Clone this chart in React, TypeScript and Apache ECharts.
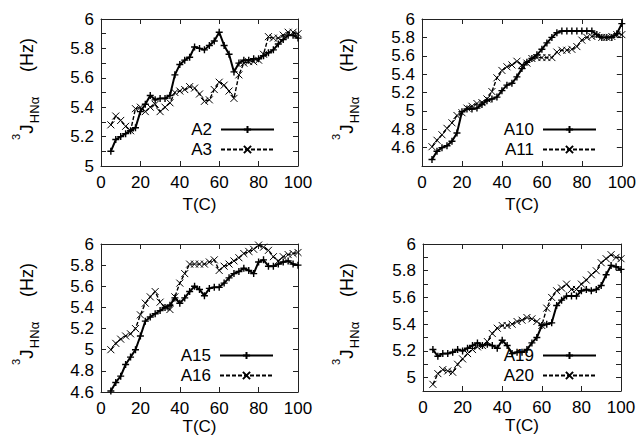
import React, { useEffect, useRef } from 'react';
import * as echarts from 'echarts';

// Temperatures (°C)
const T = [5, 7.5, 10, 12.5, 15, 17.5, 20, 22.5, 25, 27.5, 30, 32.5, 35, 37.5, 40, 42.5, 45, 47.5, 50, 52.5, 55, 57.5, 60, 62.5, 65, 67.5, 70, 72.5, 75, 77.5, 80, 82.5, 85, 87.5, 90, 92.5, 95, 97.5, 100];

const A2 = [5.10, 5.18, 5.20, 5.22, 5.24, 5.26, 5.37, 5.42, 5.48, 5.45, 5.46, 5.46, 5.48, 5.62, 5.69, 5.72, 5.74, 5.81, 5.80, 5.79, 5.82, 5.85, 5.91, 5.82, 5.76, 5.64, 5.70, 5.72, 5.72, 5.73, 5.73, 5.75, 5.77, 5.79, 5.83, 5.86, 5.89, 5.89, 5.87];
const A3 = [5.28, 5.34, 5.31, 5.27, 5.24, 5.39, 5.40, 5.37, 5.40, 5.42, 5.37, 5.40, 5.43, 5.50, 5.51, 5.52, 5.54, 5.53, 5.49, 5.44, 5.45, 5.52, 5.57, 5.55, 5.51, 5.46, 5.62, 5.70, 5.71, 5.71, 5.72, 5.76, 5.88, 5.87, 5.87, 5.89, 5.91, 5.91, 5.90];
const A10 = [4.47, 4.56, 4.60, 4.62, 4.67, 4.76, 4.99, 5.02, 5.02, 5.03, 5.07, 5.11, 5.13, 5.15, 5.22, 5.28, 5.30, 5.37, 5.46, 5.53, 5.57, 5.61, 5.67, 5.74, 5.80, 5.85, 5.87, 5.87, 5.87, 5.87, 5.87, 5.87, 5.87, 5.83, 5.80, 5.80, 5.80, 5.84, 5.95];
const A11 = [4.61, 4.68, 4.74, 4.81, 4.87, 4.95, 4.98, 5.03, 5.05, 5.08, 5.09, 5.13, 5.21, 5.36, 5.44, 5.48, 5.50, 5.54, 5.50, 5.52, 5.57, 5.58, 5.58, 5.58, 5.58, 5.64, 5.66, 5.66, 5.67, 5.70, 5.77, 5.80, 5.81, 5.82, 5.80, 5.80, 5.81, 5.83, 5.83];
const A15 = [4.61, 4.69, 4.75, 4.86, 4.93, 5.00, 5.13, 5.27, 5.31, 5.34, 5.37, 5.40, 5.42, 5.49, 5.44, 5.49, 5.55, 5.60, 5.57, 5.51, 5.58, 5.59, 5.59, 5.63, 5.68, 5.72, 5.74, 5.77, 5.75, 5.72, 5.83, 5.85, 5.79, 5.79, 5.81, 5.83, 5.84, 5.81, 5.80];
const A16 = [5.00, 5.06, 5.10, 5.13, 5.15, 5.20, 5.33, 5.44, 5.50, 5.55, 5.45, 5.40, 5.38, 5.50, 5.63, 5.72, 5.81, 5.81, 5.81, 5.81, 5.83, 5.85, 5.75, 5.79, 5.81, 5.84, 5.87, 5.91, 5.93, 5.95, 5.99, 5.97, 5.94, 5.88, 5.84, 5.88, 5.90, 5.91, 5.92];
const A19 = [5.21, 5.16, 5.18, 5.18, 5.19, 5.21, 5.20, 5.22, 5.24, 5.26, 5.24, 5.25, 5.24, 5.22, 5.28, 5.24, 5.18, 5.19, 5.19, 5.21, 5.26, 5.30, 5.39, 5.40, 5.41, 5.54, 5.58, 5.61, 5.61, 5.61, 5.65, 5.66, 5.65, 5.66, 5.69, 5.77, 5.84, 5.83, 5.81];
const A20 = [4.95, 5.03, 5.06, 5.05, 5.04, 5.10, 5.14, 5.18, 5.21, 5.23, 5.24, 5.27, 5.33, 5.37, 5.39, 5.39, 5.40, 5.42, 5.43, 5.45, 5.44, 5.42, 5.39, 5.52, 5.60, 5.65, 5.67, 5.70, 5.66, 5.66, 5.70, 5.73, 5.77, 5.80, 5.86, 5.89, 5.92, 5.90, 5.89];

const X_RANGE = [0, 100];
const X_STEP = 20;
const Y_RANGE_1 = [5, 6];
const Y_RANGE_2 = [4.4, 6];
const Y_RANGE_3 = [4.6, 6];
const Y_RANGE_4 = [4.9, 6];
const Y_LABELS_1 = [5, 5.2, 5.4, 5.6, 5.8, 6];
const Y_LABELS_2 = [4.6, 4.8, 5, 5.2, 5.4, 5.6, 5.8, 6];
const Y_LABELS_3 = [4.6, 4.8, 5, 5.2, 5.4, 5.6, 5.8, 6];
const Y_LABELS_4 = [5, 5.2, 5.4, 5.6, 5.8, 6];

const FONT = '"Liberation Sans", Arial, Helvetica, sans-serif';
const PLUS = 'path://M5,0L5,10M0,5L10,5';
const CROSS = 'path://M0,0L10,10M0,10L10,0';
const AX = '#222';

type Panel = {
  grid: any;
  yRange: number[];
  yStep: number;
  yLabels: number[];
  names: string[];
  values: number[][];
  legend: any;
  nameGap: number;
  off: number[];
};

const panels: Panel[] = [
  { grid: { left: 101, top: 19, width: 197, height: 147 }, yRange: Y_RANGE_1, yStep: 0.1, yLabels: Y_LABELS_1, names: ['A2', 'A3'], values: [A2, A3], legend: { right: 364, top: 121 }, nameGap: 30, off: [0, 0] },
  { grid: { left: 422, top: 19, width: 200, height: 147 }, yRange: Y_RANGE_2, yStep: 0.2, yLabels: Y_LABELS_2, names: ['A10', 'A11'], values: [A10, A11], legend: { right: 42, top: 121 }, nameGap: 30, off: [320, 0] },
  { grid: { left: 101, top: 244, width: 197, height: 148 }, yRange: Y_RANGE_3, yStep: 0.2, yLabels: Y_LABELS_3, names: ['A15', 'A16'], values: [A15, A16], legend: { right: 365, top: 347 }, nameGap: 25, off: [0, 225] },
  { grid: { left: 423, top: 244, width: 198, height: 147 }, yRange: Y_RANGE_4, yStep: 0.1, yLabels: Y_LABELS_4, names: ['A19', 'A20'], values: [A19, A20], legend: { right: 42, top: 347 }, nameGap: 25, off: [320, 225] },
];

function buildOption() {
  const grid: any[] = [];
  const xAxis: any[] = [];
  const yAxis: any[] = [];
  const series: any[] = [];
  const legend: any[] = [];
  const graphic: any[] = [];

  const axisLine = { show: true, onZero: false, lineStyle: { color: AX, width: 1 } };
  const axisTick = { show: true, inside: true, length: 5, lineStyle: { color: AX, width: 1 } };

  panels.forEach((p, i) => {
    grid.push({ ...p.grid, containLabel: false });
    xAxis.push({
      type: 'value', gridIndex: i, position: 'bottom', min: X_RANGE[0], max: X_RANGE[1], interval: X_STEP,
      axisLine, axisTick, splitLine: { show: false },
      axisLabel: { fontSize: 17, color: '#000', fontFamily: FONT, margin: 8 },
      name: 'T(C)', nameLocation: 'middle', nameGap: p.nameGap,
      nameTextStyle: { fontSize: 17, color: '#000', fontFamily: FONT },
    });
    xAxis.push({
      type: 'value', gridIndex: i, position: 'top', min: X_RANGE[0], max: X_RANGE[1], interval: X_STEP,
      axisLine, axisTick, splitLine: { show: false }, axisLabel: { show: false },
    });
    const labels = p.yLabels;
    yAxis.push({
      type: 'value', gridIndex: i, position: 'left', min: p.yRange[0], max: p.yRange[1], interval: p.yStep,
      axisLine, axisTick, splitLine: { show: false },
      axisLabel: {
        fontSize: 17, color: '#000', fontFamily: FONT, margin: 7, showMinLabel: true, showMaxLabel: true,
        formatter: (v: number) => {
          const r = Math.round(v * 10) / 10;
          return labels.some((l) => Math.abs(l - r) < 1e-6) ? String(r) : '';
        },
      },
    });
    yAxis.push({
      type: 'value', gridIndex: i, position: 'right', min: p.yRange[0], max: p.yRange[1], interval: p.yStep,
      axisLine, axisTick, splitLine: { show: false }, axisLabel: { show: false },
    });

    p.names.forEach((name, k) => {
      const vals = p.values[k];
      series.push({
        type: 'line', name, xAxisIndex: 2 * i, yAxisIndex: 2 * i,
        data: T.map((t, j) => [t, vals[j]]),
        symbol: k === 0 ? PLUS : CROSS,
        symbolSize: 7,
        showSymbol: true, showAllSymbol: true,
        lineStyle: k === 0 ? { color: '#000', width: 2, type: 'solid' } : { color: '#000', width: 1.4, type: [4, 2] },
        itemStyle: { color: '#000', borderColor: '#000', borderWidth: k === 0 ? 1.4 : 1 },
        emphasis: { disabled: true },
        silent: true,
      });
    });

    legend.push({
      data: p.names, orient: 'vertical', align: 'right', ...p.legend,
      padding: 0, itemWidth: 53, itemHeight: 9, itemGap: 3,
      textStyle: { fontSize: 17, color: '#000', fontFamily: FONT, padding: [0, 4, 0, 0] },
      selectedMode: false,
    });

    const [ox, oy] = p.off;
    const rot = Math.PI / 2;
    graphic.push(
      { type: 'text', x: 27 + ox, y: 55 + oy, rotation: rot, style: { text: '(Hz)', fontSize: 18, fontFamily: FONT, fill: '#000', align: 'center', verticalAlign: 'middle' } },
      { type: 'text', x: 26 + ox, y: 129 + oy, rotation: rot, style: { text: 'J', fontSize: 19, fontFamily: FONT, fill: '#000', align: 'center', verticalAlign: 'middle' } },
      { type: 'text', x: 16 + ox, y: 137 + oy, rotation: rot, style: { text: '3', fontSize: 11, fontFamily: FONT, fill: '#000', align: 'center', verticalAlign: 'middle' } },
      { type: 'text', x: 34 + ox, y: 110 + oy, rotation: rot, style: { text: 'HNα', fontSize: 13, fontFamily: FONT, fill: '#000', align: 'center', verticalAlign: 'middle' } },
    );
  });

  return { animation: false, backgroundColor: '#fff', grid, xAxis, yAxis, series, legend, graphic };
}

export default function App() {
  const ref = useRef<HTMLDivElement>(null);
  useEffect(() => {
    if (!ref.current) return;
    const chart = echarts.init(ref.current, undefined, { renderer: 'svg' });
    chart.setOption(buildOption() as any);
    return () => chart.dispose();
  }, []);
  return <div ref={ref} style={{ position: 'fixed', left: 0, top: 0, width: 639, height: 437 }} />;
}
